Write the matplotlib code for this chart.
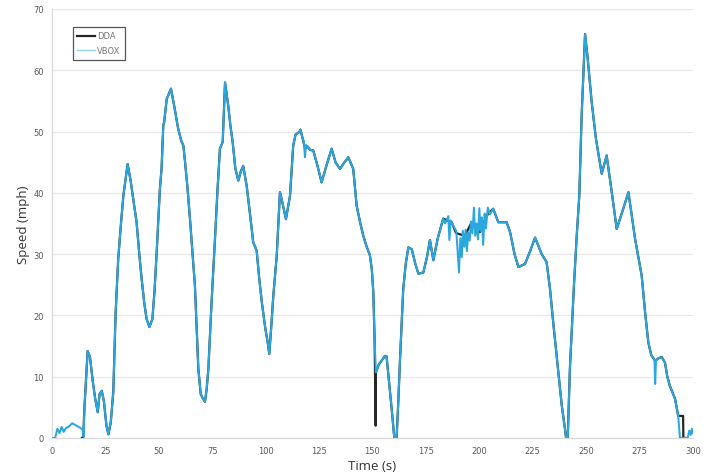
import numpy as np
import matplotlib
matplotlib.use("Agg")
import matplotlib.pyplot as plt

# Shared drive trace (s, mph) seen by both loggers
route_t = [15.2, 16.7, 17.8, 19.0, 20.2, 21.4, 22.3, 23.3, 24.3, 25.5, 26.4, 27.5, 28.7, 29.8,
           31.0, 32.3, 33.4, 35.4, 36.8, 38.5, 39.6, 41.0, 42.0, 43.2, 44.3, 45.6, 47.0, 48.0,
           49.0, 50.5, 51.3, 52.1, 52.5, 53.7, 55.7, 57.3, 59.1, 60.5, 61.5, 62.3, 63.5, 64.6,
           65.8, 66.9, 67.7, 68.5, 69.6, 70.5, 71.6, 72.4, 73.2, 74.7, 76.3, 77.4, 78.6, 79.9,
           81.0, 82.5, 83.5, 84.6, 85.8, 87.2, 88.4, 89.5, 91.1, 92.7, 94.2, 95.8, 97.0, 98.2,
           99.8, 101.0, 101.7, 102.6, 103.6, 105.2, 106.7, 107.8, 109.5, 111.4, 112.9, 114.0,
           115.7, 116.3, 117.6, 118.4, 119.5, 120.8, 122.3, 124.2, 126.2, 128.5, 130.9, 132.7,
           134.8, 136.5, 138.7, 141.0, 142.6, 144.2, 145.7, 147.3, 148.8, 149.7, 150.4, 151.0,
           151.6, 153.0, 155.9, 156.6, 157.8, 159.0, 160.2, 161.3, 162.1, 162.9, 164.4, 165.6,
           166.8, 168.4, 170.0, 171.5, 173.8, 175.5, 176.9, 178.5, 180.5, 183.1, 185.0, 187.1,
           189.0, 190.2, 193.3, 196.4, 198.5, 200.3, 203.5, 206.5, 208.9, 212.8, 214.4, 216.5,
           218.3, 221.4, 223.8, 226.1, 229.2, 231.5, 233.1, 234.7, 236.2, 238.6, 240.1, 240.6,
           241.4, 242.4, 244.3, 245.6, 246.8, 247.9, 249.5, 250.6, 252.6, 254.6, 257.3, 259.6,
           262.0, 264.3, 267.0, 269.8, 272.9, 276.0, 277.6, 279.1, 280.5, 282.3, 283.8, 285.4,
           286.9, 288.0, 289.2, 291.6, 293.1]
route_v = [5.0, 14.2, 13.2, 9.5, 6.5, 4.2, 7.2, 7.7, 6.0, 2.0, 0.6, 2.5, 7.5, 20.5,
           29.2, 35.0, 39.5, 44.7, 42.0, 37.9, 35.2, 29.5, 25.9, 22.0, 19.4, 18.1, 19.4, 24.0,
           30.3, 40.6, 44.0, 51.0, 51.5, 55.3, 57.0, 54.0, 50.4, 48.5, 47.7, 45.0, 40.5, 35.7,
           30.0, 24.9, 18.0, 11.3, 7.2, 6.5, 5.9, 8.0, 11.3, 22.2, 32.5, 40.0, 47.2, 48.3,
           58.0, 54.2, 51.0, 48.2, 44.0, 42.0, 43.5, 44.4, 41.2, 36.5, 31.9, 30.6, 26.0, 22.2,
           18.0, 15.5, 13.7, 18.0, 23.2, 29.8, 40.1, 38.5, 35.7, 39.5, 47.7, 49.5,
           49.9, 50.3, 48.5, 47.2, 47.6, 47.0, 46.9, 44.5, 41.7, 44.5, 47.2, 45.0,
           43.9, 44.8, 45.8, 43.9, 37.9, 35.2, 33.0, 31.2, 29.8, 27.5, 23.8, 16.0,
           10.7, 12.0, 13.4, 13.3, 9.0, 4.7, 0.1, 0.0, 6.0, 12.9, 24.3, 28.5,
           31.1, 30.8, 28.5, 26.8, 27.0, 29.5, 32.3, 29.0, 32.5, 35.8, 35.5, 35.2,
           33.5, 33.3, 33.0, 35.2, 34.2, 33.6, 36.3, 37.4, 35.2, 35.2, 33.6, 30.0,
           27.9, 28.4, 30.5, 32.7, 30.0, 28.7, 24.3, 18.5, 13.4, 5.3, 1.5, 0.0,
           0.0, 11.3, 24.9, 33.0, 39.5, 52.6, 65.9, 62.4, 54.8, 48.8, 43.1, 46.1,
           40.1, 34.1, 37.0, 40.1, 32.5, 26.5, 20.5, 15.6, 13.5, 12.6, 13.0, 13.2,
           12.3, 10.0, 8.5, 6.4, 3.6]

# DDA-only stretches: launch from rest, a dropout near 151 s, late hold at stop
dda_start_t = [14.0, 14.6]
dda_start_v = [0.0, 0.0]
dda_drop_t = [151.5]
dda_drop_v = [2.0]
dda_end_t = [295.4, 295.5, 296.5]
dda_end_v = [3.6, 0.0, 0.0]

# VBOX-only stretches: creep at launch, jittery cruise, idle at the end
vbox_start_t = [0.0, 1.5, 2.5, 3.5, 4.5, 5.5, 6.5, 8.0, 9.5, 10.5, 11.5, 12.5, 13.5, 14.3, 14.8]
vbox_start_v = [0.0, 0.0, 1.5, 0.8, 1.8, 1.0, 1.6, 1.9, 2.4, 2.2, 2.0, 1.8, 1.6, 1.4, 0.2]
vbox_noise_t = [117.9, 118.4, 118.9, 184.0, 185.5, 186.0, 186.6, 188.0, 189.2, 189.8, 190.5,
                191.1, 191.8, 192.3, 193.0, 193.6, 194.2, 194.8, 195.5, 196.1, 196.8, 197.5,
                198.1, 198.8, 199.4, 200.0, 200.6, 201.2, 201.8, 202.5, 203.1, 204.0, 205.0,
                282.0, 282.3, 282.7]
vbox_noise_v = [48.5, 45.8, 47.8, 35.0, 36.2, 32.3, 35.5, 34.5, 33.8, 30.8, 27.0,
                32.6, 29.5, 33.8, 31.2, 34.0, 30.5, 33.5, 32.2, 35.3, 33.4, 37.6,
                33.0, 35.0, 32.4, 37.5, 33.8, 36.0, 31.5, 36.6, 34.2, 37.6, 36.5,
                12.8, 8.8, 12.7]
vbox_end_t = [293.9, 297.5, 298.3, 299.0, 299.5, 300.0]
vbox_end_v = [0.0, 0.0, 1.2, 0.5, 1.5, 0.8]

x_ticks = [0, 25, 50, 75, 100, 125, 150, 175, 200, 225, 250, 275, 300]
y_ticks = [0, 10, 20, 30, 40, 50, 60, 70]


def merge(*pairs):
    t = np.concatenate([np.asarray(p[0], float) for p in pairs])
    v = np.concatenate([np.asarray(p[1], float) for p in pairs])
    order = np.argsort(t, kind="stable")
    return t[order], v[order]


rt = np.asarray(route_t)
rv = np.asarray(route_v)

dda_t, dda_v = merge((dda_start_t, dda_start_v), (route_t, route_v),
                     (dda_drop_t, dda_drop_v), (dda_end_t, dda_end_v))

# VBOX follows the shared trace except where its own jitter was logged
mask = ~(((rt > 183.5) & (rt < 205.5)) | ((rt > 117.7) & (rt < 119.0)) | ((rt > 281.8) & (rt < 283.0)))
vbox_t, vbox_v = merge((vbox_start_t, vbox_start_v), (rt[mask], rv[mask]),
                       (vbox_noise_t, vbox_noise_v), (vbox_end_t, vbox_end_v))

fig = plt.figure(figsize=(7.10, 4.77), dpi=100)
ax = fig.add_axes([0.0732, 0.0797, 0.9028, 0.8994])

ax.plot(dda_t, dda_v, color="#262626", lw=1.6, label="DDA", zorder=3)
ax.plot(vbox_t, vbox_v, color="#2aa7df", lw=1.45, label="VBOX", zorder=4)

ax.set_xlim(0, 300)
ax.set_ylim(0, 70)
ax.set_xticks(x_ticks)
ax.set_yticks(y_ticks)
ax.tick_params(axis="both", length=0, labelsize=6, labelcolor="#595959", pad=6)
ax.grid(axis="y", color="#e8e8e8", lw=0.9)
ax.set_axisbelow(True)
for side in ("top", "right"):
    ax.spines[side].set_visible(False)
for side in ("left", "bottom"):
    ax.spines[side].set_color("#d9d9d9")
    ax.spines[side].set_linewidth(0.9)

ax.set_xlabel("Time (s)", fontsize=9.5, color="#333333", labelpad=3, family="Open Sans")
ax.set_ylabel("Speed (mph)", fontsize=9.5, color="#333333", labelpad=2, family="Open Sans")

leg = ax.legend(loc="upper left", bbox_to_anchor=(0.026, 0.968), fontsize=6,
                frameon=True, fancybox=False, framealpha=1, edgecolor="#555555",
                handlelength=2.1, handletextpad=0.3, borderpad=0.55, labelspacing=0.7)
leg.get_frame().set_linewidth(0.9)
for txt in leg.get_texts():
    txt.set_color("#777777")
leg.get_lines()[1].set_color("#8fd4f0")
leg.get_lines()[1].set_linewidth(1.0)
leg.get_lines()[0].set_linewidth(1.6)

fig.savefig("out.png", dpi=100)
